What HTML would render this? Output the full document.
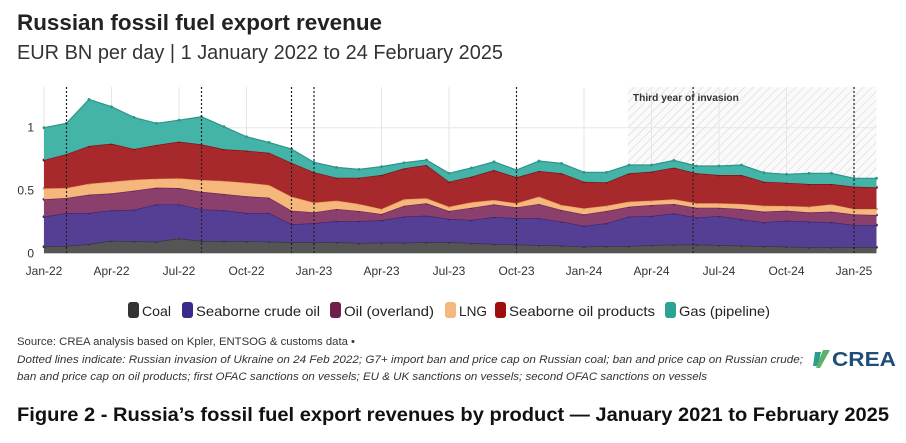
<!DOCTYPE html>
<html><head><meta charset="utf-8"><style>
html,body{margin:0;padding:0;background:#fff;}
svg{display:block;font-family:"Liberation Sans",sans-serif;}
</style></head><body>
<svg id="chart" width="906" height="443" viewBox="0 0 906 443">
<defs>
<pattern id="hatch" width="6" height="6" patternUnits="userSpaceOnUse" patternTransform="rotate(45)">
<rect width="6" height="6" fill="#fafafa"/><line x1="0" y1="0" x2="0" y2="6" stroke="#d8d8d8" stroke-width="1.2"/>
</pattern>
</defs>
<text x="17" y="30" font-size="22" font-weight="bold" fill="#222" textLength="365" lengthAdjust="spacingAndGlyphs">Russian fossil fuel export revenue</text>
<text x="17" y="59" font-size="20" fill="#333" textLength="486" lengthAdjust="spacingAndGlyphs">EUR BN per day | 1 January 2022 to 24 February 2025</text>
<g id="plot"></g>
<g id="legend"></g>
<text x="17" y="345" font-size="11" fill="#333" textLength="338" lengthAdjust="spacingAndGlyphs">Source: CREA analysis based on Kpler, ENTSOG &amp; customs data •</text>
<text x="17" y="363" font-size="11" font-style="italic" fill="#333" textLength="786" lengthAdjust="spacingAndGlyphs">Dotted lines indicate: Russian invasion of Ukraine on 24 Feb 2022; G7+ import ban and price cap on Russian coal; ban and price cap on Russian crude;</text>
<text x="17" y="380" font-size="11" font-style="italic" fill="#333" textLength="690" lengthAdjust="spacingAndGlyphs">ban and price cap on oil products; first OFAC sanctions on vessels; EU &amp; UK sanctions on vessels; second OFAC sanctions on vessels</text>
<g>
<path d="M815 352 l6 0 l-3 14 l-5 0z" fill="#2a9d8f"/><path d="M823 350 l7 0 l-10 18 l-4 0z" fill="#5bb36a"/>
<text x="832" y="366" font-size="20" font-weight="bold" fill="#1f4e79" textLength="64" lengthAdjust="spacingAndGlyphs">CREA</text>
</g>
<text x="17" y="421" font-size="19" font-weight="bold" fill="#111" textLength="872" lengthAdjust="spacingAndGlyphs">Figure 2 - Russia’s fossil fuel export revenues by product — January 2021 to February 2025</text>
</svg>
<script>
const monthLabels=["Jan-22","Apr-22","Jul-22","Oct-22","Jan-23","Apr-23","Jul-23","Oct-23","Jan-24","Apr-24","Jul-24","Oct-24","Jan-25"];
const yTicks=[0,0.5,1];
const yTickLabels=["0","0.5","1"];
const seriesNames=["Coal","Seaborne crude oil","Oil (overland)","LNG","Seaborne oil products","Gas (pipeline)"];
const coal=[.053,.058,.074,.1,.095,.093,.119,.098,.098,.095,.093,.088,.088,.088,.082,.085,.085,.088,.088,.082,.074,.069,.066,.061,.053,.056,.058,.066,.069,.069,.066,.061,.056,.053,.048,.048,.048,.048];
const crude=[.239,.262,.247,.242,.252,.297,.271,.252,.244,.226,.228,.143,.151,.169,.175,.178,.207,.212,.185,.183,.215,.21,.213,.191,.165,.183,.234,.231,.249,.215,.231,.21,.191,.207,.204,.199,.177,.177];
const overland=[.138,.12,.146,.135,.152,.133,.13,.14,.13,.133,.122,.109,.087,.096,.08,.05,.087,.098,.064,.098,.101,.087,.114,.093,.092,.098,.079,.088,.075,.079,.066,.082,.085,.08,.074,.085,.085,.08];
const lng=[.087,.08,.087,.093,.087,.071,.077,.094,.104,.108,.101,.111,.077,.066,.056,.04,.051,.04,.034,.043,.034,.032,.058,.04,.048,.042,.04,.034,.037,.035,.035,.04,.047,.037,.045,.058,.043,.048];
const oilProducts=[.226,.27,.3,.303,.244,.268,.292,.283,.252,.255,.257,.27,.242,.183,.209,.27,.246,.265,.199,.204,.239,.207,.204,.252,.212,.186,.226,.231,.252,.239,.225,.23,.191,.185,.181,.162,.178,.172];
const gas=[.257,.245,.371,.294,.252,.173,.171,.22,.18,.111,.082,.109,.079,.082,.066,.067,.045,.04,.067,.07,.066,.058,.08,.079,.075,.08,.066,.053,.058,.058,.072,.08,.072,.067,.085,.085,.066,.072];
const eventMonths=[1,7,11,12,21,28.85,36];
const thirdYearStart=25.95;
const series=[coal,crude,overland,lng,oilProducts,gas];
const colors=["#555555","#553f94","#8a3f6c","#f5b77c","#a8292b","#44b3a8"];
const strokes=["#333","#3a2470","#6b2350","#e09a5a","#7d0f12","#2c958a"];
const NS="http://www.w3.org/2000/svg";
const X0=44,DX=22.5,Y0=253.3,SY=125.6;
const xs=i=>X0+i*DX, ys=v=>Y0-v*SY;
const plot=document.getElementById('plot');
function mk(tag,attrs,parent){const e=document.createElementNS(NS,tag);for(const k in attrs)e.setAttribute(k,attrs[k]);(parent||plot).appendChild(e);return e;}
const n=coal.length;
const hr=mk('rect',{x:xs(thirdYearStart),y:87,width:xs(n-1)-xs(thirdYearStart),height:Y0-87,fill:'url(#hatch)'});


monthLabels.forEach((l,k)=>{const x=xs(k*3);
 const g=mk('line',{x1:x,x2:x,y1:87,y2:Y0,stroke:'#e6e6e6','stroke-width':1});
 
 
 const t=mk('text',{x:x,y:275,'font-size':12,'text-anchor':'middle',fill:'#333'});t.textContent=l;
 
 
});
yTicks.forEach((v,k)=>{const y=ys(v);
 const g=mk('line',{x1:X0,x2:xs(n-1),y1:y,y2:y,stroke:'#e6e6e6','stroke-width':1});
 
 
 const t=mk('text',{x:34,y:y+4,'font-size':12,'text-anchor':'end',fill:'#333'});t.textContent=yTickLabels[k];
 
 
});
let base=new Array(n).fill(0);
series.forEach((s,si)=>{
 const top=base.map((b,i)=>b+s[i]);
 let d='M'+top.map((v,i)=>xs(i)+','+ys(v)).join('L');
 for(let i=n-1;i>=0;i--)d+='L'+xs(i)+','+ys(base[i]);
 const a=mk('path',{d:d+'Z',fill:colors[si]});
 
 
 const ln=mk('polyline',{points:top.map((v,i)=>xs(i)+','+ys(v)).join(' '),fill:'none',stroke:strokes[si],'stroke-width':1.2});
 
 
 top.forEach((v,i)=>{const c=mk('circle',{cx:xs(i),cy:ys(v),r:1.4,fill:strokes[si]});
  
  });
 base=top;
});
eventMonths.forEach(m=>{const l=mk('line',{x1:xs(m),x2:xs(m),y1:87,y2:Y0,stroke:'#222','stroke-width':1.2,'stroke-dasharray':'2,2'});
 
 });
const tl=mk('text',{x:xs(thirdYearStart)+5,y:101,'font-size':10,'font-weight':'bold',fill:'#333',textLength:106,lengthAdjust:'spacingAndGlyphs'});
tl.textContent='Third year of invasion';


const leg=document.getElementById('legend');
const legX=[128,182,330,445,495,665],legW=[29,124,90,28,146,91];
const legColors=["#333","#3a2a8c","#6e1f4a","#f5b77c","#a00d0d","#2aa394"];
seriesNames.forEach((nm,i)=>{
 const g=mk('g',{},leg);
 
 
 mk('rect',{x:legX[i],y:302,width:11,height:16,rx:3,fill:legColors[i]},g);
 const t=mk('text',{x:legX[i]+14,y:316,'font-size':14,fill:'#222',textLength:legW[i],lengthAdjust:'spacingAndGlyphs'},g);t.textContent=nm;
});
</script>
</body></html>
